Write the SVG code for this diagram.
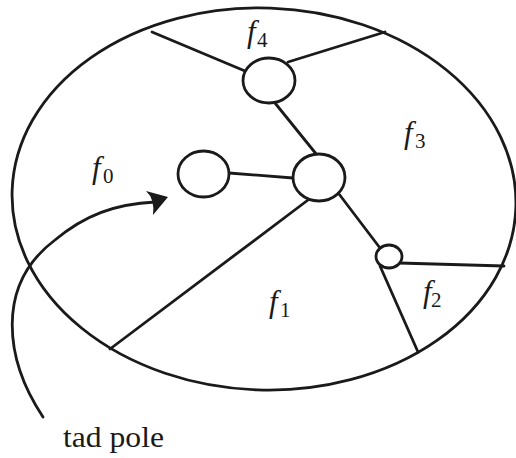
<svg xmlns="http://www.w3.org/2000/svg" width="516" height="458" viewBox="0 0 516 458">
<style>
.ln{fill:none;stroke:#1a1a1a;stroke-width:2.8;stroke-linecap:round}
.nd{fill:#fff;stroke:#1a1a1a;stroke-width:2.8}
.m{font-family:"Liberation Serif","Times New Roman","DejaVu Serif",serif;font-style:italic;font-size:31px;fill:#1a1a1a}
.s{font-family:"Liberation Serif","Times New Roman","DejaVu Serif",serif;font-style:normal;font-size:21px}
.t{font-family:"Liberation Serif","Times New Roman","DejaVu Serif",serif;font-size:30px;fill:#1a1a1a}
</style>
<rect width="516" height="458" fill="#fff"/>
<g id="boundary">
<ellipse class="ln" cx="264" cy="199" rx="252" ry="191" transform="rotate(2 264 199)"/>
</g>
<g id="connectors">
<line class="ln" x1="152" y1="32" x2="245" y2="71"/>
<line class="ln" x1="288" y1="62" x2="385" y2="32"/>
<line class="ln" x1="275" y1="103" x2="317" y2="155"/>
<line class="ln" x1="229" y1="173" x2="293" y2="178"/>
<line class="ln" x1="308" y1="200" x2="110" y2="349"/>
<line class="ln" x1="339" y1="194" x2="380" y2="248"/>
<line class="ln" x1="399" y1="263" x2="504" y2="266"/>
<line class="ln" x1="380" y1="266" x2="418" y2="352"/>
<path class="ln" d="M43,417 C5,360 -5,285 55,240 C85,215 115,204 155,202"/>
<path d="M168,197 L146,191 Q155,199 153,215 Z" fill="#1a1a1a"/>
</g>
<g id="node-top"><ellipse class="nd" cx="269" cy="80.5" rx="26" ry="22.5"/></g>
<g id="node-mid"><ellipse class="nd" cx="319" cy="177.5" rx="26" ry="23.5"/></g>
<g id="node-left"><ellipse class="nd" cx="203.5" cy="174" rx="25.5" ry="23"/></g>
<g id="node-small"><ellipse class="nd" cx="389" cy="256.5" rx="13" ry="11.5"/></g>
<g id="labels">
<text class="m" x="92" y="178">f<tspan class="s" x="103" y="183">0</tspan></text>
<text class="m" x="269" y="312">f<tspan class="s" x="280" y="317">1</tspan></text>
<text class="m" x="423" y="302">f<tspan class="s" x="431" y="307">2</tspan></text>
<text class="m" x="404" y="143">f<tspan class="s" x="415" y="148">3</tspan></text>
<text class="m" x="247" y="42">f<tspan class="s" x="257" y="47">4</tspan></text>
<text class="t" x="63" y="447" textLength="101" lengthAdjust="spacingAndGlyphs">tad pole</text>
</g>
</svg>
